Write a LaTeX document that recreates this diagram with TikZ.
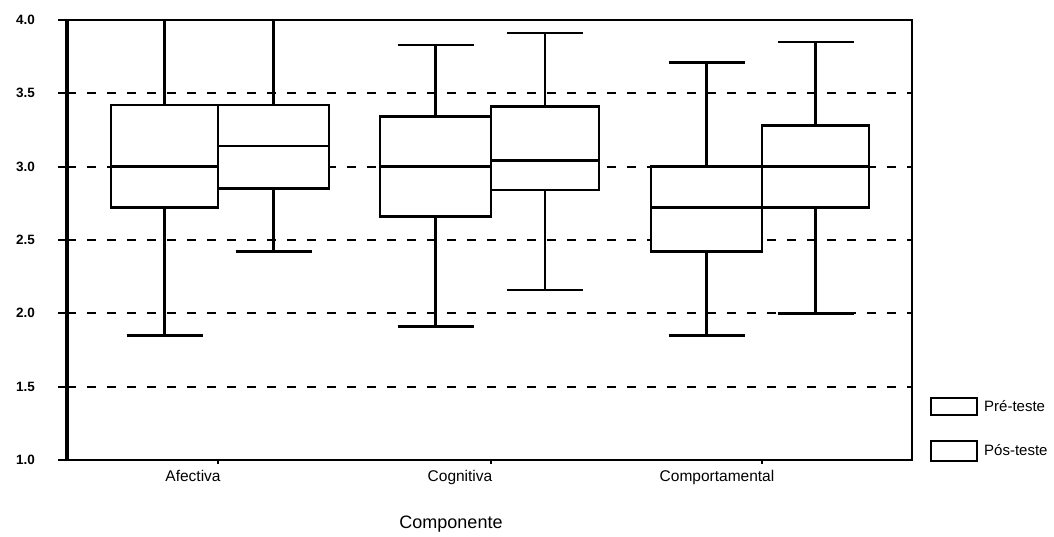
\documentclass[tikz,border=0pt]{standalone}
\usepackage{fontspec}
\setmainfont{Liberation Sans}
\usetikzlibrary{positioning}

\tikzset{
  frameline/.style={line width=2.7pt},
  gridline/.style={line width=2.2pt, dash pattern=on 9pt off 11pt},
  tickline/.style={line width=2.2pt},
  boxline/.style={line width=2.7pt, fill=white},
  whisk/.style={line width=2.5pt},
  ticklab/.style={font=\bfseries\fontsize{13.5}{14}\selectfont, anchor=east, inner sep=0pt},
  catlab/.style={font=\fontsize{15.5}{16}\selectfont, anchor=base, inner sep=0pt},
  legbox/.style={line width=2.5pt, fill=white},
  leglab/.style={font=\fontsize{15}{16}\selectfont, anchor=base west, inner sep=0pt},
}

\begin{document}
\begin{tikzpicture}[x=1pt,y=1pt]
\useasboundingbox (0,0) rectangle (1054,537);
\begin{scope}[shift={(0,-69.67)},y=146.67pt]
	% grid lines and ticks
	\foreach \v in {1.5,2.0,2.5,3.0,3.5}
		\draw[gridline] (67,\v) -- (912,\v);
	\foreach \v in {1.0,1.5,2.0,2.5,3.0,3.5,4.0}
		\draw[tickline] (58,\v) -- (67,\v);
	\foreach \v in {1.0,1.5,2.0,2.5,3.0,3.5,4.0}
		\node[ticklab] at (35,\v) {\v};
	\foreach \x in {218,491,762}
		\draw[tickline] (\x,1) -- (\x,0.975);
	% boxes: left/right/min/q1/median/q3/max
	\foreach \xl/\xr/\lo/\qa/\md/\qb/\hi in {
		111/218/1.85/2.72/3.00/3.42/4.00,
		218/329/2.42/2.85/3.14/3.42/4.00,
		380/491/1.91/2.66/3.00/3.34/3.83,
		491/599/2.16/2.84/3.04/3.41/3.91,
		651/762/1.85/2.42/2.72/3.00/3.71,
		762/869/2.00/2.72/3.00/3.28/3.85}{
		\draw[whisk] ({(\xl+\xr)/2},\lo) -- ({(\xl+\xr)/2},\hi);
		\draw[whisk] ({(\xl+\xr)/2-38},\lo) -- ({(\xl+\xr)/2+38},\lo);
		\draw[whisk] ({(\xl+\xr)/2-38},\hi) -- ({(\xl+\xr)/2+38},\hi);
		\draw[boxline] (\xl,\qa) rectangle (\xr,\qb);
		\draw[boxline] (\xl,\md) -- (\xr,\md);
	}
	% frame
	\draw[frameline] (67,1) rectangle (912,4);
	\draw[line width=3.2pt] (67,1) -- (67,4);
	\draw[frameline] (58,1) -- (67,1);
\end{scope}
% axis labels
\node[catlab] (afectiva) at (193,55) {Afectiva};
\node[catlab] (cognitiva) at (460,55) {Cognitiva};
\node[catlab] (comport) at (717,55) {Comportamental};
\node[font=\fontsize{18}{18}\selectfont, anchor=base, inner sep=0pt] (componente) at (451,8) {Componente};
% legend
\draw[legbox] (931,122) rectangle (977,139);
\node[leglab] (pre) at (984,125) {Pré-teste};
\draw[legbox] (931,76) rectangle (977,96);
\node[leglab] (pos) at (984,81) {Pós-teste};
\end{tikzpicture}
\end{document}
